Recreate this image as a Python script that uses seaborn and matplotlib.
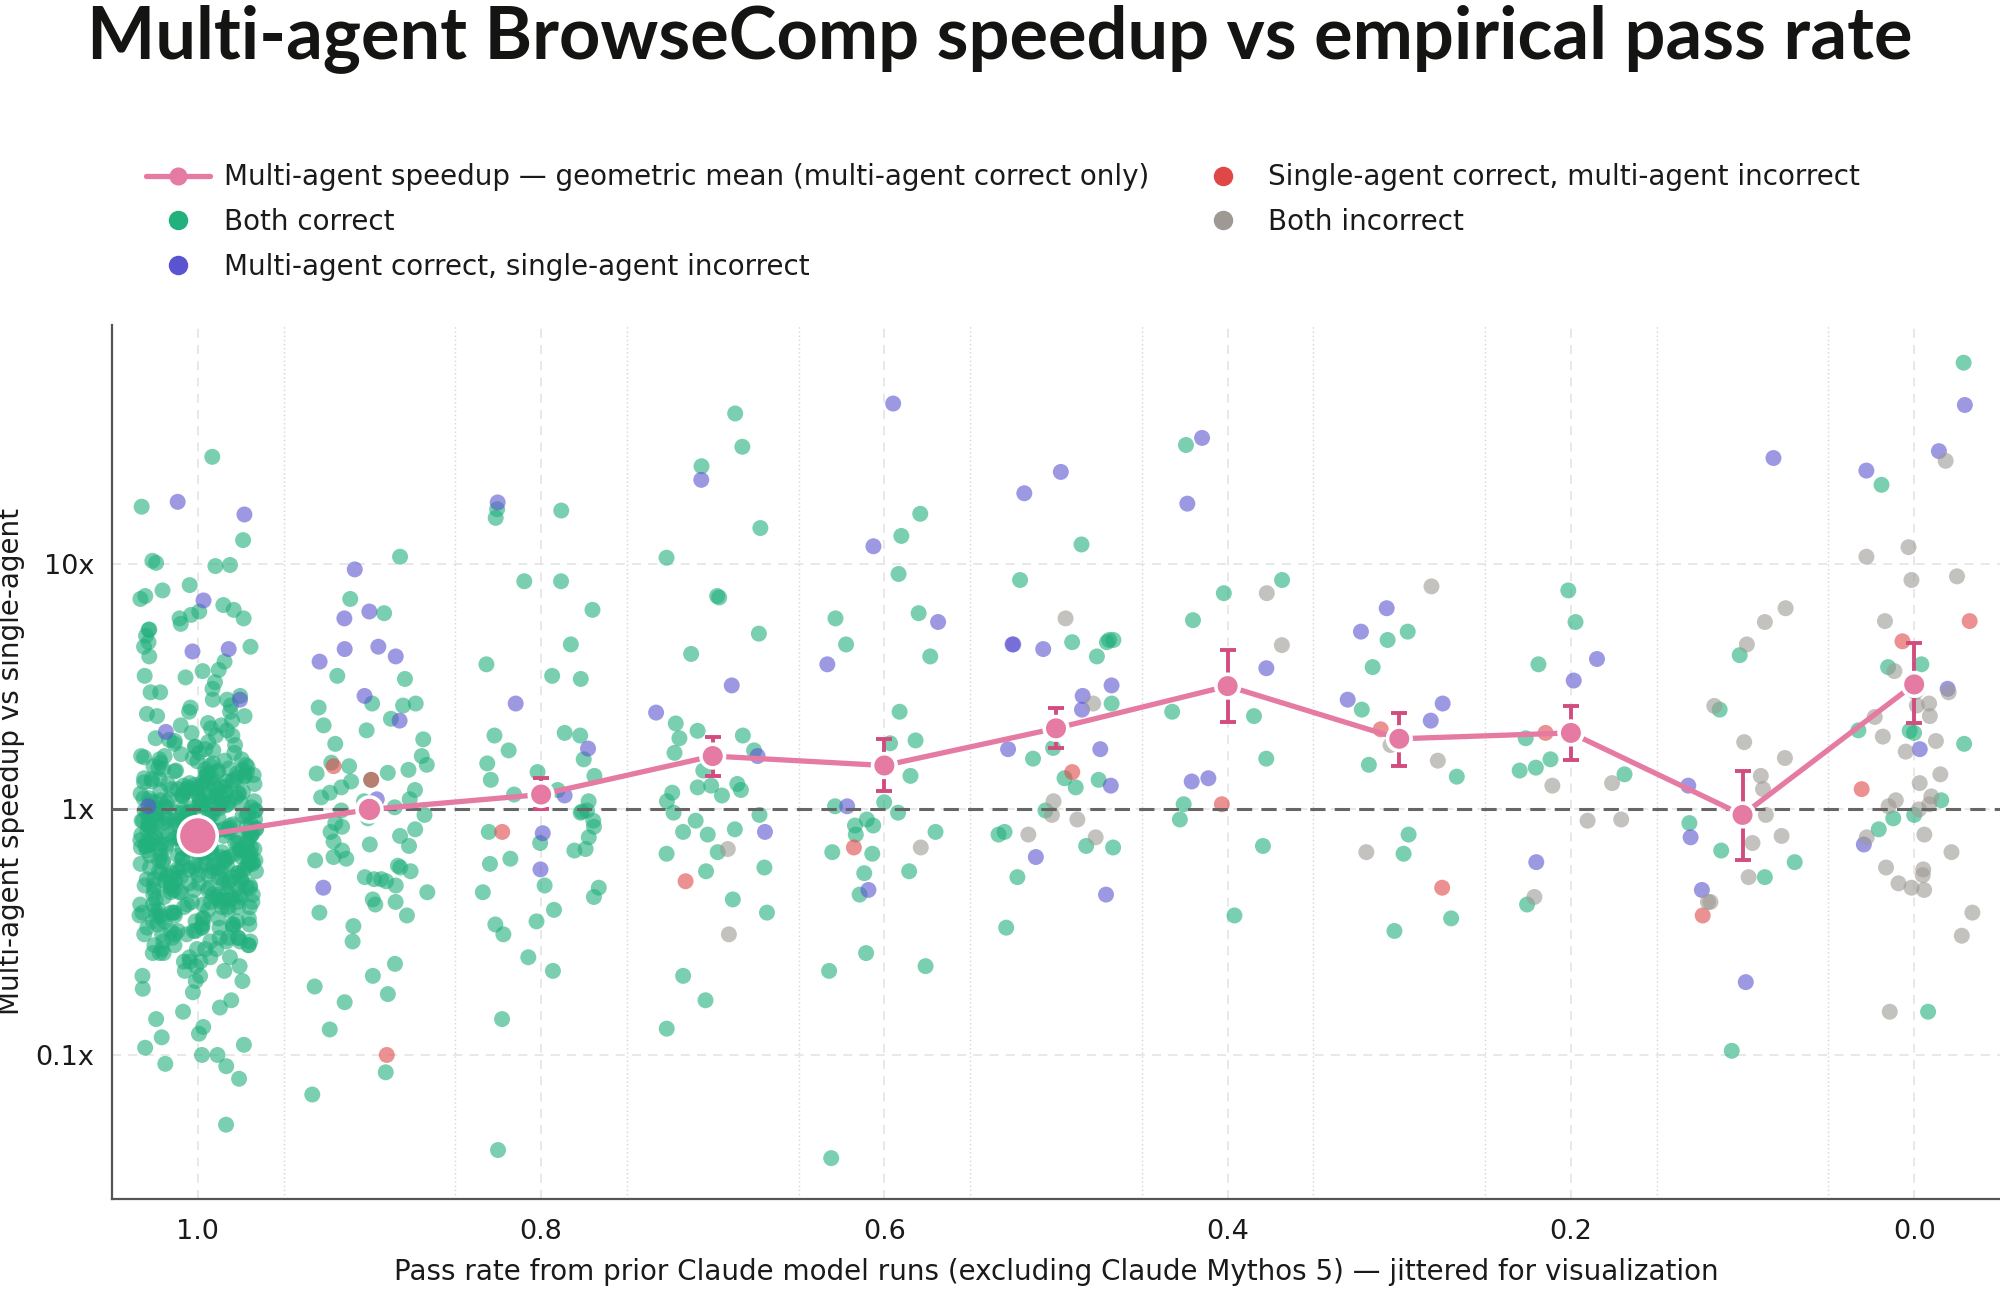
import numpy as np
import pandas as pd
import matplotlib
matplotlib.use("Agg")
import matplotlib.pyplot as plt
from matplotlib.lines import Line2D
from matplotlib.ticker import FuncFormatter, FixedLocator, LogLocator, NullFormatter
import seaborn as sns

# pass-rate bins (prior Claude model runs)
PASS_RATES = [1.0, 0.9, 0.8, 0.7, 0.6, 0.5, 0.4, 0.3, 0.2, 0.1, 0.0]

# geometric mean speedup (multi-agent correct only) and its interval
GEO_MEAN = [0.78, 1.0, 1.15, 1.65, 1.51, 2.14, 3.18, 1.94, 2.05, 0.95, 3.23]
CI_LOW = [0.72, 0.92, 1.0, 1.37, 1.19, 1.78, 2.28, 1.50, 1.59, 0.62, 2.24]
CI_HIGH = [0.85, 1.09, 1.34, 1.98, 1.93, 2.60, 4.45, 2.48, 2.64, 1.44, 4.76]

# per-question speedups, by pass-rate bin
both_correct = {
    1.0: [27.3, 17.1, 12.5, 10.3, 10.1, 9.9, 9.8, 8.2, 7.8, 7.4, 7.2, 6.8, 6.5, 6.4, 6.2, 6.0, 6.0,
          5.7, 5.4, 5.4, 5.1, 4.8, 4.6, 4.6, 4.2, 4.0, 3.7, 3.66, 3.5, 3.45, 3.3, 3.1, 3.0, 3.0,
          2.9, 2.8, 2.8, 2.65, 2.6, 2.5, 2.5, 2.45, 2.4, 2.4, 2.3, 2.25, 2.2, 2.14, 2.1, 2.0, 2.0,
          1.95, 1.9, 1.88, 1.85, 1.8, 1.8, 1.74, 1.7, 1.65, 1.65, 1.6, 1.6,
          1.57, 1.54, 1.52, 1.51, 1.49, 1.47, 1.46, 1.44, 1.43, 1.41, 1.4, 1.38, 1.37, 1.36, 1.34,
          1.33, 1.31, 1.3, 1.29, 1.28, 1.26, 1.25, 1.24, 1.23, 1.21, 1.2, 1.19, 1.18, 1.17, 1.16,
          1.15, 1.14, 1.13, 1.12, 1.11, 1.1, 1.09, 1.08, 1.08, 1.07, 1.06, 1.05, 1.04, 1.03, 1.02,
          1.01, 1.0, 0.99, 0.98, 0.97, 0.96, 0.96, 0.95, 0.94, 0.93, 0.92, 0.91, 0.9, 0.9, 0.89,
          0.88, 0.87, 0.86, 0.85, 0.85, 0.84, 0.83, 0.82, 0.81, 0.8, 0.8, 0.79, 0.78, 0.77, 0.76,
          0.76, 0.75, 0.74, 0.73, 0.72, 0.72, 0.71, 0.7, 0.69, 0.68, 0.68, 0.67, 0.66, 0.65, 0.64,
          0.64, 0.63, 0.62, 0.61, 0.6, 0.6, 0.59, 0.58, 0.57, 0.56, 0.56, 0.55, 0.54, 0.53, 0.52,
          0.52, 0.51, 0.5, 0.49, 0.48, 0.48, 0.47, 0.46, 0.45, 0.44, 0.44, 0.43, 0.42, 0.41, 0.4,
          0.4, 0.39, 0.38, 0.37, 0.36, 0.35, 0.34, 0.33, 0.32, 0.31, 0.3, 0.29, 0.28, 0.27, 0.26,
          0.25, 0.24, 0.23,
          1.48, 1.35, 1.27, 1.22, 1.13, 1.06, 1.02, 0.97, 0.94, 0.91, 0.88, 0.86, 0.83, 0.81, 0.79,
          0.77, 0.74, 0.71, 0.69, 0.67, 0.65, 0.63, 0.62, 0.6, 0.58, 0.57, 0.55, 0.53, 0.51, 0.5,
          0.49, 0.47, 0.45, 0.43, 0.42, 0.4, 0.38, 0.36, 0.34, 0.33, 0.31, 0.29, 0.27, 0.26, 0.24,
          1.18, 1.04, 0.93, 0.84, 0.75, 0.7, 0.66, 0.61, 0.59, 0.54, 0.5, 0.46, 0.41, 0.37, 0.35,
          0.3, 0.28, 0.25,
          1.7, 1.62, 1.55, 1.5, 1.45, 1.42, 1.39, 1.35, 1.32, 1.29, 1.27, 1.24, 1.22, 1.19, 1.17,
          1.15, 1.13, 1.11, 1.09, 1.07, 1.05, 1.03, 1.01, 0.99, 0.97, 0.95, 0.93, 0.91, 0.89, 0.87,
          0.85, 0.83, 0.82, 0.8, 0.78, 0.77, 0.75, 0.73, 0.72, 0.7, 0.69, 0.67, 0.66, 0.64, 0.63,
          0.61, 0.6, 0.58, 0.57, 0.56, 0.54, 0.53, 0.52, 0.5, 0.49, 0.48, 0.47, 0.46, 0.44, 0.43,
          0.42, 0.41, 0.4, 0.39, 0.37, 0.36, 0.35, 0.34, 0.33, 0.32, 0.31, 0.3, 0.29, 0.28, 0.27,
          0.26,
          1.44, 1.33, 1.26, 1.16, 1.12, 1.06, 1.0, 0.96, 0.92, 0.87, 0.84, 0.8, 0.76, 0.73, 0.7,
          0.68, 0.65, 0.62, 0.59, 0.57, 0.55, 0.52, 0.5, 0.47, 0.45, 0.43, 0.4, 0.38, 0.35, 0.33,
          0.31, 0.29, 0.27,
          1.46, 1.37, 1.31, 1.25, 1.21, 1.14, 1.1, 1.05, 1.01, 0.98, 0.95, 0.92, 0.9, 0.87, 0.85,
          0.82, 0.8, 0.78, 0.76, 0.74, 0.72, 0.7, 0.68, 0.66, 0.64, 0.62, 0.61, 0.59, 0.58, 0.56,
          0.55, 0.53, 0.52, 0.51, 0.49, 0.48, 0.46, 0.45, 0.44, 0.42, 0.41, 0.39, 0.38, 0.37, 0.36,
          0.34, 0.33, 0.32, 0.3, 0.29, 0.28,
          1.41, 1.3, 1.2, 1.11, 1.04, 0.99, 0.94, 0.89, 0.86, 0.81, 0.79, 0.75, 0.71, 0.69, 0.66,
          0.63, 0.6, 0.57, 0.54, 0.51, 0.48, 0.45, 0.42, 0.39, 0.36, 0.34, 0.32, 0.3,
          2.2, 2.05, 1.92, 1.83, 1.76, 1.68, 1.63, 1.58, 0.25, 0.24, 0.23, 0.22, 0.21,
          0.22, 0.21, 0.2, 0.2, 0.186, 0.18, 0.167, 0.156, 0.15, 0.14, 0.13, 0.122, 0.118, 0.11,
          0.107, 0.1, 0.1, 0.092, 0.09, 0.08, 0.052],
    0.9: [10.7, 7.2, 6.3, 3.5, 3.4, 2.7, 2.7, 2.65, 2.6, 2.34, 2.2, 2.1, 1.93, 1.85, 1.65, 1.55,
          1.52, 1.5, 1.45, 1.41, 1.4, 1.32, 1.3, 1.23, 1.2, 1.17, 1.12, 1.1, 1.08, 1.02, 0.99,
          0.95, 0.92, 0.88, 0.85, 0.83, 0.81, 0.78, 0.74, 0.72, 0.71, 0.68, 0.64, 0.63, 0.62,
          0.59, 0.58, 0.56, 0.53, 0.52, 0.51, 0.52, 0.49, 0.46, 0.43, 0.42, 0.41, 0.38, 0.37,
          0.335, 0.29, 0.235, 0.21, 0.19, 0.177, 0.164, 0.127, 0.085, 0.069],
    0.8: [16.7, 16.5, 15.4, 8.5, 8.5, 6.5, 4.7, 3.9, 3.5, 3.4, 2.05, 2.0, 2.0, 1.74, 1.6, 1.54,
          1.42, 1.37, 1.32, 1.2, 1.15, 1.11, 1.08, 0.99, 0.98, 0.97, 0.9, 0.85, 0.81, 0.77, 0.73,
          0.69, 0.68, 0.63, 0.6, 0.49, 0.48, 0.46, 0.44, 0.39, 0.35, 0.34, 0.31, 0.25, 0.22,
          0.14, 0.041],
    0.7: [41, 30, 25, 14, 10.6, 7.4, 7.3, 5.2, 4.3, 2.24, 2.09, 2.0, 1.95, 1.74, 1.7, 1.44, 1.27,
          1.25, 1.23, 1.2, 1.17, 1.14, 1.08, 0.97, 0.95, 0.9, 0.83, 0.81, 0.79, 0.67, 0.66, 0.58,
          0.56, 0.43, 0.38, 0.21, 0.167, 0.128],
    0.6: [16, 13, 9.1, 6.3, 6.0, 4.7, 4.2, 2.5, 1.91, 1.86, 1.37, 1.07, 1.03, 0.97, 0.91, 0.86,
          0.86, 0.81, 0.79, 0.67, 0.66, 0.56, 0.55, 0.45, 0.26, 0.23, 0.22, 0.038],
    0.5: [12, 8.6, 4.9, 4.9, 4.8, 4.8, 4.2, 2.7, 1.78, 1.61, 1.34, 1.32, 1.23, 0.99, 0.81, 0.79,
          0.71, 0.70, 0.53, 0.33],
    0.4: [30.5, 8.6, 7.6, 5.9, 2.5, 2.4, 1.61, 1.05, 0.91, 0.71, 0.37],
    0.3: [5.3, 4.9, 3.8, 2.55, 1.52, 1.36, 0.79, 0.66, 0.36, 0.32],
    0.2: [7.8, 5.8, 3.9, 1.95, 1.6, 1.48, 1.44, 1.39, 0.41],
    0.1: [4.25, 2.55, 0.88, 0.68, 0.61, 0.53, 0.104],
    0.0: [66, 21, 3.9, 3.8, 2.1, 2.09, 2.05, 1.85, 1.09, 0.95, 0.92, 0.83, 0.15],
}
multi_only = {
    1.0: [17.9, 15.9, 7.1, 4.5, 4.4, 2.8, 2.07, 1.03],
    0.9: [9.5, 6.4, 6.0, 4.6, 4.5, 4.2, 4.0, 2.9, 2.3, 1.1, 0.48],
    0.8: [17.8, 2.7, 1.77, 1.14, 0.8, 0.57],
    0.7: [22, 3.2, 2.48, 1.65, 0.81],
    0.6: [45, 11.8, 5.8, 3.9, 1.03, 0.47],
    0.5: [23.7, 19.4, 4.7, 4.5, 4.7, 3.2, 2.9, 2.55, 1.76, 1.76, 1.25, 0.64, 0.45],
    0.4: [32.6, 17.6, 3.76, 1.34, 1.30],
    0.3: [6.6, 5.3, 2.8, 2.7, 2.3],
    0.2: [4.1, 3.35, 0.61],
    0.1: [27, 1.25, 0.77, 0.47, 0.198],
    0.0: [44.4, 28.8, 24, 3.1, 1.76, 0.72],
}
single_only = {
    0.9: [1.5, 1.32, 0.1],
    0.8: [0.81],
    0.7: [0.51],
    0.6: [0.7],
    0.5: [1.42],
    0.4: [1.05],
    0.3: [2.12, 0.48],
    0.2: [2.05],
    0.1: [0.37],
    0.0: [5.85, 4.84, 1.21],
}
both_incorrect = {
    0.7: [0.69, 0.31],
    0.6: [0.7],
    0.5: [6.0, 2.7, 1.08, 0.95, 0.91, 0.79, 0.77],
    0.4: [7.6, 4.67],
    0.3: [8.1, 1.83, 1.58, 0.67],
    0.2: [1.28, 1.25, 0.91, 0.9, 0.44],
    0.1: [6.6, 5.8, 4.7, 2.64, 1.88, 1.62, 1.37, 1.21, 0.95, 0.78, 0.73, 0.53, 0.42, 0.42],
    0.0: [26.3, 11.7, 10.7, 8.9, 8.6, 5.85, 3.66, 3.1, 3.0, 3.0, 2.7, 2.65, 2.4, 2.38, 1.98,
          1.9, 1.72, 1.39, 1.28, 1.13, 1.09, 1.05, 1.0, 1.03, 0.79, 0.77, 0.67, 0.58, 0.57,
          0.54, 0.5, 0.48, 0.47, 0.38, 0.306, 0.15],
}

LABELS = ["Both correct",
          "Multi-agent correct, single-agent incorrect",
          "Single-agent correct, multi-agent incorrect",
          "Both incorrect"]
COLORS = ["#22b07d", "#5b54d0", "#e04848", "#9e9a93"]
PINK = "#e57aa3"
PINK_DARK = "#d14d80"

rows = []
for label, groups in zip(LABELS, [both_correct, multi_only, single_only, both_incorrect]):
    for pr, vals in groups.items():
        for v in vals:
            rows.append((pr, v, label))
df = pd.DataFrame(rows, columns=["pass_rate", "speedup", "outcome"])

sns.set_theme(style="white")
plt.rcParams["font.family"] = ["DejaVu Sans"]

fig = plt.figure(figsize=(20, 13), dpi=100)
ax = fig.add_axes([0.056, 0.078, 0.944, 0.672])

np.random.seed(7)
sns.stripplot(data=df, x="pass_rate", y="speedup", hue="outcome", hue_order=LABELS,
              palette=dict(zip(LABELS, COLORS)), native_scale=True, log_scale=(False, True),
              jitter=0.34, size=11.5, alpha=0.6, linewidth=0, legend=False, ax=ax, zorder=2)

ax.axhline(1, color="#666666", lw=2.2, ls=(0, (5, 3)), zorder=3)

means = np.array(GEO_MEAN)
yerr = [means - np.array(CI_LOW), np.array(CI_HIGH) - means]
ax.errorbar(PASS_RATES, means, yerr=yerr, fmt="none", ecolor=PINK_DARK, elinewidth=2.8,
            capsize=5.5, capthick=2.8, zorder=4)
sns.lineplot(x=PASS_RATES, y=GEO_MEAN, color=PINK, lw=3.8, ax=ax, zorder=5)
n_correct = np.array([len(both_correct.get(p, [])) + len(multi_only.get(p, [])) for p in PASS_RATES])
msize = np.clip(9 + np.sqrt(n_correct), 17, 28)
ax.scatter(PASS_RATES, GEO_MEAN, s=msize ** 2, color=PINK, edgecolor="white", linewidth=2.6,
           zorder=6)

ax.set_xlim(1.05, -0.05)
ax.set_ylim(0.026, 94)
ax.set_yscale("log")
ax.xaxis.set_major_locator(FixedLocator([1.0, 0.8, 0.6, 0.4, 0.2, 0.0]))
ax.xaxis.set_minor_locator(FixedLocator([0.95, 0.85, 0.75, 0.65, 0.55, 0.45, 0.35, 0.25, 0.15, 0.05]))
ax.xaxis.set_major_formatter(FuncFormatter(lambda v, _: f"{v:.1f}"))
ax.yaxis.set_major_locator(FixedLocator([0.1, 1, 10]))
ax.yaxis.set_major_formatter(FuncFormatter(lambda v, _: f"{v:g}x"))
ax.yaxis.set_minor_locator(LogLocator(base=10, subs=np.arange(2, 10)))
ax.yaxis.set_minor_formatter(NullFormatter())

ax.grid(True, which="major", axis="both", color="#e6e6e6", lw=1.3, ls=(0, (5, 4)), zorder=0)
ax.grid(True, which="minor", axis="x", color="#d4d4d4", lw=1.0, ls=(0, (1, 2)), zorder=0)
ax.set_axisbelow(True)

for side in ["top", "right"]:
    ax.spines[side].set_visible(False)
for side in ["left", "bottom"]:
    ax.spines[side].set_color("#555555")
    ax.spines[side].set_linewidth(1.6)
ax.tick_params(axis="both", which="major", labelsize=19.5, labelcolor="#1a1a1a", color="#666666",
               length=6, width=1.4, pad=7)
ax.tick_params(axis="y", which="minor", length=3.5, width=1.0, color="#666666")
ax.tick_params(axis="x", which="minor", length=0)
ax.tick_params(axis="x", which="major", pad=9)

ax.set_xlabel("Pass rate from prior Claude model runs (excluding Claude Mythos 5) \u2014 jittered for visualization",
              fontsize=20, color="#1a1a1a", labelpad=9)
ax.set_ylabel("Multi-agent speedup vs single-agent", fontsize=20, color="#1a1a1a", labelpad=7)

fig.text(0.5, 0.97, "Multi-agent BrowseComp speedup vs empirical pass rate", ha="center",
         va="center", fontsize=52, fontweight="bold", color="#141413",
         family=["Lato", "DejaVu Sans"])

handles = [Line2D([0], [0], color=PINK, lw=3.8, marker="o", markersize=12,
                  markerfacecolor=PINK, markeredgecolor=PINK)]
for c in COLORS:
    handles.append(Line2D([0], [0], ls="none", marker="o", markersize=13,
                          markerfacecolor=c, markeredgecolor=c))
labels = ["Multi-agent speedup \u2014 geometric mean (multi-agent correct only)"] + LABELS
fig.legend(handles, labels, loc="upper left", bbox_to_anchor=(0.066, 0.885), ncol=2,
           frameon=False, fontsize=20, handlelength=2.3, handletextpad=0.5,
           columnspacing=1.5, labelspacing=0.6, borderpad=0, labelcolor="#1a1a1a")

fig.savefig("out.png", dpi=100, facecolor="white")
